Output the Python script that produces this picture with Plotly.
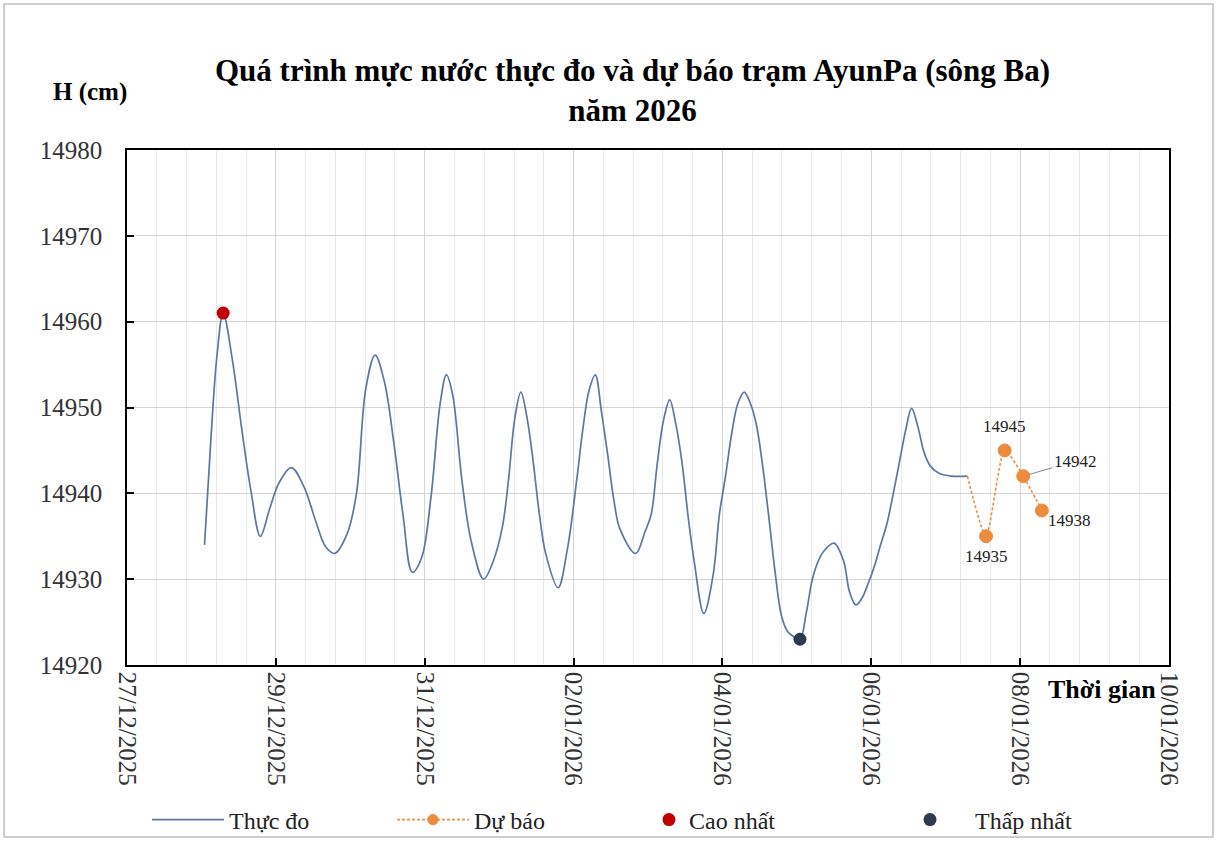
import plotly.graph_objects as go
import pandas as pd

# ---------------- data ----------------
obs_time = [
    "2025-12-28 01:00", "2025-12-28 03:00", "2025-12-28 05:00", "2025-12-28 07:00",
    "2025-12-28 10:00", "2025-12-28 13:00", "2025-12-28 16:00", "2025-12-28 19:00",
    "2025-12-28 22:00", "2025-12-29 01:00", "2025-12-29 05:00", "2025-12-29 09:00",
    "2025-12-29 13:00", "2025-12-29 16:00", "2025-12-29 19:00", "2025-12-29 23:00",
    "2025-12-30 02:00", "2025-12-30 05:00", "2025-12-30 08:00", "2025-12-30 11:00",
    "2025-12-30 14:00", "2025-12-30 17:00", "2025-12-30 20:00", "2025-12-30 23:00",
    "2025-12-31 02:00", "2025-12-31 05:00", "2025-12-31 07:00", "2025-12-31 09:00",
    "2025-12-31 12:00", "2025-12-31 15:00", "2025-12-31 19:00", "2025-12-31 22:00",
    "2026-01-01 01:00", "2026-01-01 03:00", "2026-01-01 05:00", "2026-01-01 07:00",
    "2026-01-01 09:00", "2026-01-01 11:00", "2026-01-01 13:00", "2026-01-01 15:00",
    "2026-01-01 19:00", "2026-01-01 22:00", "2026-01-02 01:00", "2026-01-02 03:00",
    "2026-01-02 05:00", "2026-01-02 07:00", "2026-01-02 09:00", "2026-01-02 11:00",
    "2026-01-02 13:00", "2026-01-02 15:00", "2026-01-02 20:00", "2026-01-02 23:00",
    "2026-01-03 01:00", "2026-01-03 03:00", "2026-01-03 05:00", "2026-01-03 07:00",
    "2026-01-03 09:00", "2026-01-03 11:00", "2026-01-03 13:00", "2026-01-03 15:00",
    "2026-01-03 18:00", "2026-01-03 21:00", "2026-01-03 23:00", "2026-01-04 01:00",
    "2026-01-04 03:00", "2026-01-04 05:00", "2026-01-04 07:00", "2026-01-04 09:00",
    "2026-01-04 11:00", "2026-01-04 13:00", "2026-01-04 15:00", "2026-01-04 17:00",
    "2026-01-04 19:00", "2026-01-04 21:00", "2026-01-04 23:00", "2026-01-05 01:00",
    "2026-01-05 03:00", "2026-01-05 05:00", "2026-01-05 07:00", "2026-01-05 09:00",
    "2026-01-05 12:00", "2026-01-05 15:00", "2026-01-05 17:00", "2026-01-05 19:00",
    "2026-01-05 21:00", "2026-01-05 23:00", "2026-01-06 01:00", "2026-01-06 03:00",
    "2026-01-06 05:00", "2026-01-06 07:00", "2026-01-06 09:00", "2026-01-06 11:00",
    "2026-01-06 13:00", "2026-01-06 15:00", "2026-01-06 17:00", "2026-01-06 19:00",
    "2026-01-06 22:00", "2026-01-07 02:00", "2026-01-07 07:00",
]
obs_level = [
    14934.0, 14946.0, 14956.0, 14961.0,
    14955.5, 14947.5, 14940.2, 14935.0,
    14938.2, 14941.2, 14943.0, 14940.8,
    14936.6, 14933.8, 14933.0, 14935.3,
    14940.0, 14952.2, 14956.1, 14953.0,
    14946.0, 14937.5, 14930.8, 14932.5,
    14939.5, 14950.5, 14953.8, 14951.5,
    14941.5, 14934.4, 14930.0, 14932.0,
    14936.0, 14941.5, 14948.6, 14951.8,
    14948.8, 14943.6, 14937.5, 14933.0,
    14929.0, 14933.5, 14941.5, 14947.5,
    14952.0, 14953.8, 14949.5, 14944.5,
    14939.2, 14935.8, 14933.0, 14935.5,
    14937.5, 14943.5, 14948.5, 14950.9,
    14948.0, 14943.5, 14937.1, 14931.8,
    14926.0, 14930.5, 14937.5, 14942.0,
    14947.0, 14950.5, 14951.8, 14950.5,
    14947.9, 14943.1, 14937.1, 14930.8,
    14925.8, 14923.9, 14923.3, 14923.0,
    14926.0, 14930.0, 14932.2, 14933.4,
    14934.2, 14932.2, 14928.5, 14927.0,
    14927.8, 14929.5, 14931.5, 14934.0,
    14936.4, 14939.8, 14943.5, 14947.2,
    14949.9, 14947.8, 14944.8, 14943.2,
    14942.3, 14942.0, 14942.0,
]

fc_time = ["2026-01-07 07:00", "2026-01-07 13:00", "2026-01-07 19:00",
           "2026-01-08 01:00", "2026-01-08 07:00"]
fc_level = [14942, 14935, 14945, 14942, 14938]

max_time, max_level = "2025-12-28 07:00", 14961
min_time, min_level = "2026-01-05 01:00", 14923

x_ticks = ["2025-12-27", "2025-12-29", "2025-12-31", "2026-01-02",
           "2026-01-04", "2026-01-06", "2026-01-08", "2026-01-10"]

FONT = "Liberation Serif"

# minor gridlines: 5 per major (2-day) interval
minor_vals = [str(v) for v in pd.date_range("2025-12-27", "2026-01-10", freq="576min")]

fig = go.Figure()

fig.add_trace(go.Scatter(
    x=obs_time, y=obs_level, name="Thực đo", mode="lines", legend="legend",
    line=dict(color="#5A78A2", width=1.7, shape="spline", smoothing=1.0),
))
fig.add_trace(go.Scatter(
    x=fc_time, y=fc_level, name="Dự báo", mode="lines+markers", legend="legend2",
    line=dict(color="#E8914A", width=1.6, dash="3px,2px", shape="spline", smoothing=0.6),
    marker=dict(color="#EE8A3C", size=[0, 13, 13, 13, 13], opacity=1),
))
fig.add_trace(go.Scatter(
    x=[max_time], y=[max_level], name="Cao nhất", mode="markers", legend="legend3",
    marker=dict(color="#C00000", size=13),
))
fig.add_trace(go.Scatter(
    x=[min_time], y=[min_level], name="Thấp nhất", mode="markers", legend="legend4",
    marker=dict(color="#2B3A4E", size=13),
))

# forecast value labels
lab_font = dict(family=FONT, size=17, color="#222")
fig.add_annotation(x=fc_time[1], y=fc_level[1], text=str(fc_level[1]), showarrow=False,
                   yshift=-20, font=lab_font)
fig.add_annotation(x=fc_time[2], y=fc_level[2], text=str(fc_level[2]), showarrow=False,
                   yshift=24, font=lab_font)
fig.add_annotation(x=fc_time[3], y=fc_level[3], text=str(fc_level[3]), showarrow=True,
                   arrowhead=0, arrowwidth=1, arrowcolor="#888", ax=52, ay=-15,
                   standoff=6, font=lab_font)
fig.add_annotation(x=fc_time[4], y=fc_level[4], text=str(fc_level[4]), showarrow=False,
                   xshift=28, yshift=-10, font=lab_font)

# titles
fig.add_annotation(xref="paper", yref="paper", x=0.4856, y=1.1165,
                   text="Quá trình mực nước thực đo và dự báo trạm AyunPa (sông Ba)<br>năm 2026",
                   showarrow=False, xanchor="center", yanchor="middle",
                   font=dict(family=FONT, size=31, color="black", weight="bold"))
fig.add_annotation(xref="paper", yref="paper", x=-0.0355, y=1.1126, text="H (cm)",
                   showarrow=False, xanchor="center", yanchor="middle",
                   font=dict(family=FONT, size=25, color="black", weight="bold"))
fig.add_annotation(xref="paper", yref="paper", x=0.9357, y=-0.0485, text="Thời gian",
                   showarrow=False, xanchor="center", yanchor="middle",
                   font=dict(family=FONT, size=26, color="black", weight="bold"))

# outer border
fig.add_shape(type="rect", xref="paper", yref="paper",
              x0=-0.118, x1=1.0422, y0=-0.334, y1=1.2835,
              line=dict(color="#BFBFBF", width=1.5), layer="below")

def leg(px_left, itemw):
    return dict(orientation="h", x=(px_left - 127) / 1042, xanchor="left",
                y=-0.301, yanchor="middle", itemwidth=itemw,
                font=dict(family=FONT, size=24, color="#222"),
                bgcolor="rgba(0,0,0,0)", itemclick=False)

fig.update_layout(
    width=1219, height=841,
    margin=dict(l=127, r=50, t=150, b=176, autoexpand=False),
    paper_bgcolor="white", plot_bgcolor="white",
    font=dict(family=FONT, size=22, color="#222"),
    showlegend=True,
    legend=leg(147, 72),
    legend2=leg(392, 72),
    legend3=leg(649, 30),
    legend4=leg(885, 80),
)
fig.update_xaxes(
    type="date", range=["2025-12-27", "2026-01-10"], automargin=False,
    tickmode="array", tickvals=x_ticks, tickformat="%d/%m/%Y", tickangle=90,
    ticks="inside", ticklen=7, tickcolor="black", tickwidth=1.5,
    showline=True, linecolor="black", linewidth=1.5, mirror=True,
    showgrid=True, gridcolor="#D4D4D4", gridwidth=1,
    minor=dict(tickmode="array", tickvals=minor_vals, showgrid=True,
               gridcolor="#EAEAEA", gridwidth=1),
    tickfont=dict(family=FONT, size=25, color="#333"),
)
fig.update_yaxes(
    range=[14920, 14980], dtick=10, tick0=14920, tickformat="d", automargin=False,
    ticks="inside", ticklen=7, tickcolor="black", tickwidth=1.5,
    showline=True, linecolor="black", linewidth=1.5, mirror=True,
    showgrid=True, gridcolor="#D4D4D4", gridwidth=1,
    tickfont=dict(family=FONT, size=25, color="#333"), ticklabelstandoff=18,
    zeroline=False,
)

fig.write_html("out.html", config={"displayModeBar": False},
               post_script="document.body.style.margin='0px';")
